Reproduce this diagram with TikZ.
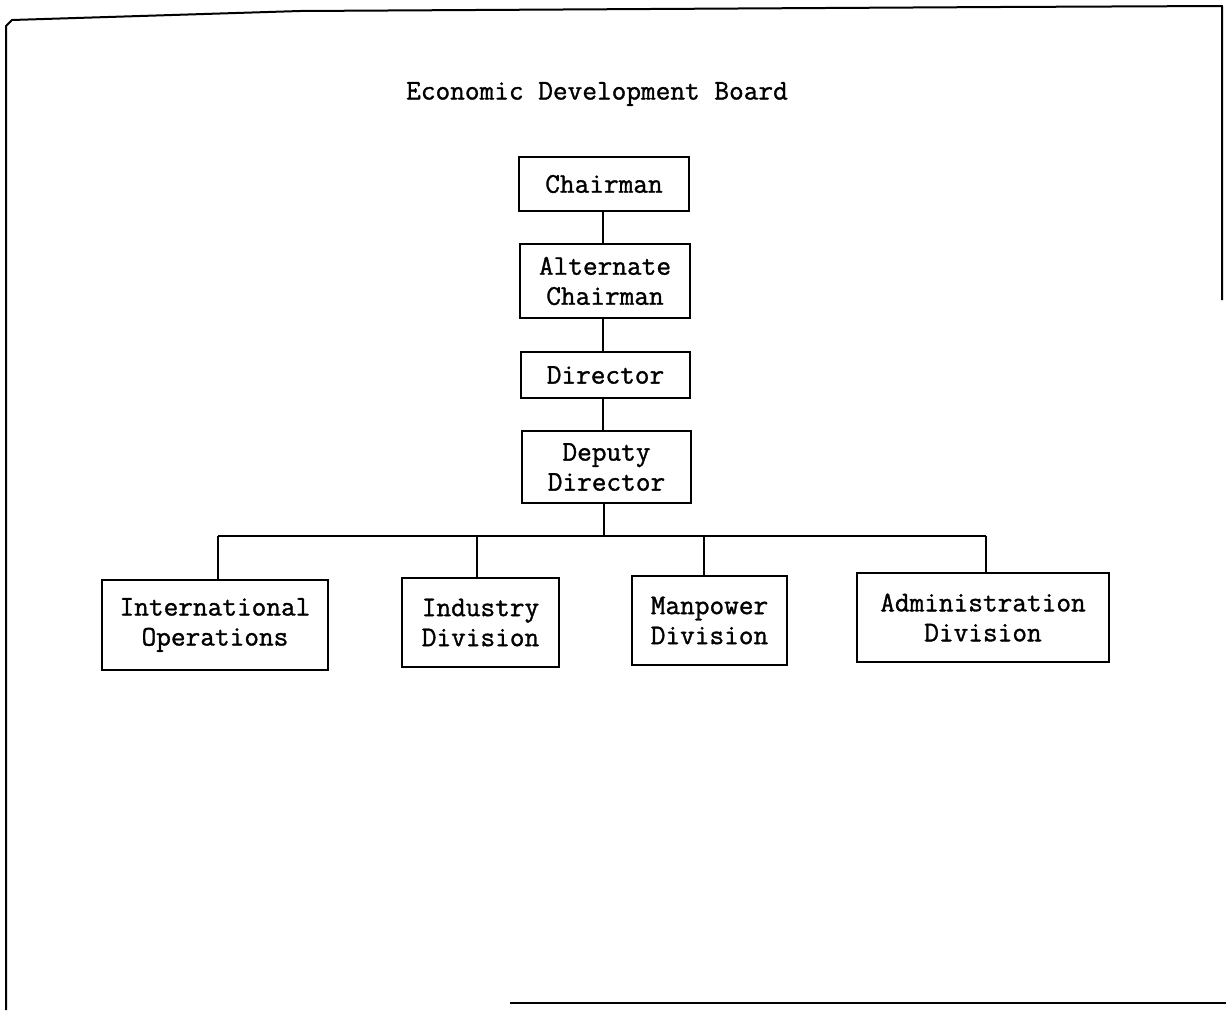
\documentclass[tikz,border=0pt]{standalone}
\usepackage{fontspec}
\newfontfamily\typewriter{Latin Modern Mono}[FakeBold=1.2]
\begin{document}
\begin{tikzpicture}[x=1pt,y=-1pt,
  line width=1.8pt,
  every node/.style={font=\typewriter\fontsize{28.5}{30}\selectfont},
  unit/.style={draw, line width=1.8pt, align=center, inner sep=0pt,
    minimum width=#1},
]
\useasboundingbox (0,0) rectangle (1226,1010);

% page edge of the sheet
\draw[line width=2pt, line join=round]
  (6,1010) -- (6,26) -- (12,20) -- (300,11) -- (1000,7) -- (1222,6) -- (1222,300);
\draw[line width=2pt] (510,1003) -- (1226,1003);

% heading
\node (title) at (597,94) {Economic Development Board};

% chain of command
\node[unit=170pt, minimum height=54pt] (chair) at (604,184) {Chairman};
\node[unit=170pt, minimum height=74pt] (alt)   at (605,281) {Alternate\\Chairman};
\node[unit=169pt, minimum height=46pt] (dir)   at (605.5,375) {Director};
\node[unit=169pt, minimum height=72pt] (dep)   at (606.5,467) {Deputy\\Director};

% divisions
\node[unit=226pt, minimum height=90pt] (intl)  at (215,625)   {International\\Operations};
\node[unit=157pt, minimum height=89pt] (ind)   at (480.5,622.5) {Industry\\Division};
\node[unit=155pt, minimum height=89pt] (man)   at (709.5,620.5) {Manpower\\Division};
\node[unit=252pt, minimum height=89pt] (admin) at (983,617.5) {Administration\\Division};

% vertical links
\coordinate (spine) at (603,0);
\draw (spine |- chair.south) -- (spine |- alt.north);
\draw (spine |- alt.south)   -- (spine |- dir.north);
\draw (spine |- dir.south)   -- (spine |- dep.north);

% branch bar
\coordinate (j0) at (604,536);
\coordinate (j1) at (218,536);
\coordinate (j2) at (477,536);
\coordinate (j3) at (704,536);
\coordinate (j4) at (986,536);
\draw (j0 |- dep.south) -- (j0);
\draw (j1) -- (j4);
\draw (j1) -- (j1 |- intl.north);
\draw (j2) -- (j2 |- ind.north);
\draw (j3) -- (j3 |- man.north);
\draw (j4) -- (j4 |- admin.north);
\end{tikzpicture}
\end{document}
